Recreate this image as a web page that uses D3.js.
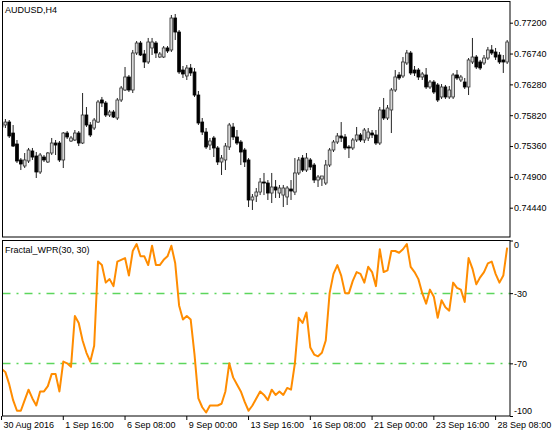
<!DOCTYPE html>
<html><head><meta charset="utf-8">
<script src="https://cdn.jsdelivr.net/npm/d3@7"></script>
<style>
body{margin:0;background:#fff;}
svg text{font-family:"Liberation Sans",Arial,sans-serif;font-size:9px;fill:#000;}
</style></head><body><svg id="c" width="560" height="435"></svg>
<script>
const symbolTitle = "AUDUSD,H4";
const indicatorTitle = "Fractal_WPR(30, 30)";
const open = [
.75704,.75674,.75718,.75554,.75390,.75152,.75062,.75137,.75286,.75211,
.74973,.75196,.75122,.75256,.75405,.75405,.75152,.75554,.75435,.75450,
.75554,.75405,.75823,.75674,.75629,.75718,.76047,.76002,.75823,.75868,
.75778,.76047,.76196,.76390,.76196,.76748,.76897,.76733,.76614,.76823,
.76897,.76688,.76688,.76823,.76793,.77270,.77061,.76494,.76405,.76524,
.76465,.76121,.75718,.75569,.75375,.75480,.75331,.75122,.75152,.75346,
.75644,.75495,.75420,.75301,.75152,.74555,.74614,.74674,.74823,.74808,
.74659,.74749,.74659,.74629,.74600,.74719,.74674,.74958,.75181,.75002,
.75152,.75077,.74853,.74868,.74808,.75077,.75301,.75420,.75510,.75495,
.75346,.75331,.75450,.75525,.75450,.75480,.75554,.75525,.75405,.75898,
.75778,.75898,.76196,.76420,.76405,.76599,.76748,.76494,.76494,.76390,
.76420,.76241,.76315,.76271,.76092,.76241,.76092,.76092,.76420,.76345,
.76315,.76241,.76614,.76688,.76614,.76599,.76673,.76793,.76763,.76718,
.76644,.76614];
const high = [
.75748,.75763,.75748,.75674,.75450,.75181,.75256,.75331,.75331,.75271,
.75256,.75226,.75271,.75480,.75450,.75435,.75569,.75584,.75510,.75599,
.75584,.76151,.75942,.75718,.75778,.76047,.76092,.76032,.75898,.75898,
.76077,.76256,.76539,.76420,.76793,.76927,.76927,.76793,.76972,.76972,
.76927,.76763,.76852,.76852,.77315,.77330,.77091,.76554,.76569,.76584,
.76524,.76181,.75778,.75629,.75480,.75510,.75360,.75226,.75405,.75704,
.75704,.75599,.75450,.75331,.75181,.74644,.74734,.74883,.74958,.74853,
.74958,.74853,.74779,.74779,.74764,.74853,.75181,.75196,.75226,.75256,
.75181,.75107,.74928,.74913,.75152,.75331,.75450,.75554,.75718,.75539,
.75375,.75480,.75644,.75554,.75629,.75629,.75599,.75599,.75942,.76077,
.75972,.76226,.76494,.76465,.76688,.76793,.76778,.76554,.76524,.76465,
.76524,.76345,.76345,.76300,.76285,.76271,.76256,.76450,.76494,.76420,
.76375,.76673,.76972,.76718,.76644,.76718,.76838,.76867,.76823,.76763,
.76718,.76942];
const low = [
.75614,.75629,.75480,.75346,.75107,.75002,.75032,.75107,.75152,.74883,
.74943,.75122,.75107,.75226,.75226,.75122,.75032,.75465,.75420,.75435,
.75360,.75390,.75644,.75495,.75599,.75704,.75942,.75793,.75793,.75778,
.75748,.76017,.76181,.76166,.76151,.76718,.76703,.76524,.76584,.76718,
.76673,.76673,.76673,.76748,.76763,.76942,.76435,.76375,.76345,.76405,
.76092,.75674,.75525,.75316,.75301,.75196,.75077,.74928,.75002,.75301,
.75450,.75375,.75077,.75047,.74450,.74406,.74525,.74629,.74629,.74555,
.74510,.74585,.74585,.74450,.74480,.74555,.74629,.74928,.74973,.74973,
.75002,.74808,.74749,.74764,.74779,.75047,.75271,.75390,.75420,.75301,
.75181,.75301,.75420,.75420,.75405,.75435,.75480,.75375,.75375,.75748,
.75748,.75554,.76166,.76345,.76375,.76569,.76420,.76405,.76345,.76345,
.76211,.76211,.76136,.76017,.76062,.76062,.76062,.76062,.76345,.76315,
.76211,.76121,.76584,.76509,.76494,.76569,.76644,.76718,.76644,.76584,
.76450,.76584];
const close = [
.75644,.75718,.75510,.75360,.75137,.75092,.75152,.75301,.75196,.74973,
.75226,.75152,.75256,.75405,.75375,.75152,.75554,.75495,.75480,.75554,
.75405,.75823,.75674,.75525,.75748,.76017,.76002,.75823,.75868,.75793,
.76047,.76226,.76390,.76196,.76748,.76897,.76718,.76614,.76912,.76912,
.76748,.76733,.76823,.76778,.77270,.77061,.76465,.76435,.76524,.76450,
.76121,.75704,.75569,.75346,.75435,.75331,.75122,.75181,.75360,.75674,
.75495,.75405,.75271,.75122,.74555,.74600,.74674,.74823,.74808,.74659,
.74749,.74704,.74734,.74734,.74734,.74689,.74958,.75152,.75002,.75181,
.75047,.74853,.74898,.74913,.75077,.75301,.75420,.75510,.75480,.75331,
.75331,.75450,.75525,.75450,.75599,.75569,.75525,.75405,.75898,.75778,
.75927,.76196,.76390,.76375,.76614,.76748,.76450,.76450,.76390,.76435,
.76241,.76315,.76166,.76047,.76241,.76092,.76196,.76420,.76375,.76390,
.76241,.76644,.76688,.76539,.76524,.76673,.76793,.76748,.76688,.76614,
.76614,.76912];
const wpr = [
-73,-75,-82,-91,-97,-97,-91,-85,-90,-94,
-86,-86,-83,-76,-76,-86,-69,-70,-72,-43,
-47,-57,-64,-69,-60,-12,-14,-24,-22,-26,
-12,-11,-10,-20,-6,-2,-9,-9,-14,-3,
-14,-14,-11,-9,-3,-13,-37,-45,-43,-45,
-65,-90,-95,-98,-94,-94,-94,-93,-86,-70,
-78,-82,-86,-92,-97,-94,-90,-86,-88,-91,
-85,-88,-86,-88,-84,-85,-70,-44,-47,-41,
-61,-65,-66,-64,-57,-30,-19,-14,-20,-30,
-30,-23,-18,-19,-24,-15,-18,-26,-5,-18,
-17,-6,-6,-7,-5,-2,-15,-18,-22,-30,
-36,-28,-32,-44,-34,-38,-40,-24,-27,-28,
-35,-10,-16,-25,-21,-18,-13,-12,-19,-24,
-20,-4];
const priceTicks = [0.77200,0.76740,0.76280,0.75820,0.75360,0.74900,0.74440];
const wprTicks = [0,-30,-70,-100];
const wprLevels = [-30,-70];
const timeTickIdx = [0,16,32,48,64,80,96,112,128];
const timeTickLabels = ["30 Aug 2016","1 Sep 16:00","6 Sep 08:00","9 Sep 00:00","13 Sep 16:00","16 Sep 08:00","21 Sep 00:00","23 Sep 16:00","28 Sep 08:00"];

const svg = d3.select("#c");
const L = 2.5, R = 510, T1 = 1.5, B1 = 237, T2 = 240.5, B2 = 416;
const N = close.length;
const x = d3.scaleBand().domain(d3.range(N)).range([-0.4, 509.1]).padding(0);
const cx = i => x(i) + x.bandwidth()/2;
const yP = d3.scaleLinear().domain([0.74440, 0.77200]).range([207.7, 22.7]);
const yW = d3.scaleLinear().domain([-100, 0]).range([B2, T2]);

const defs = svg.append("defs");
defs.append("clipPath").attr("id","c1").append("rect").attr("x",L).attr("y",T1).attr("width",R-L).attr("height",B1-T1);
defs.append("clipPath").attr("id","c2").append("rect").attr("x",L).attr("y",T2).attr("width",R-L).attr("height",B2-T2);

// candles
const gC = svg.append("g").attr("clip-path","url(#c1)");
const idx = d3.range(N);
gC.selectAll("line.w").data(idx).join("line")
  .attr("x1", i => cx(i)).attr("x2", i => cx(i))
  .attr("y1", i => yP(high[i])).attr("y2", i => yP(low[i]))
  .attr("stroke","#222").attr("stroke-width",1);
const bw = 2.8;
gC.selectAll("rect.b").data(idx).join("rect")
  .attr("x", i => cx(i) - bw/2).attr("width", bw)
  .attr("y", i => yP(Math.max(open[i], close[i])))
  .attr("height", i => Math.max(1, Math.abs(yP(open[i]) - yP(close[i]))))
  .attr("fill", i => close[i] >= open[i] ? "#d8d8d8" : "#000")
  .attr("stroke", i => close[i] >= open[i] ? "#333" : "#000").attr("stroke-width", 0.8);

// indicator
const gI = svg.append("g").attr("clip-path","url(#c2)");
gI.selectAll("line.lv").data(wprLevels).join("line")
  .attr("x1", L).attr("x2", R)
  .attr("y1", d => Math.round(yW(d)) + 0.5).attr("y2", d => Math.round(yW(d)) + 0.5)
  .attr("stroke","#5cd65c").attr("stroke-width",1.3).attr("stroke-dasharray","8,6,2,6");
gI.append("path").datum(wpr)
  .attr("d", d3.line().x((d,i) => cx(i)).y(d => yW(d)))
  .attr("fill","none").attr("stroke","#ff8c00").attr("stroke-width",2).attr("stroke-linejoin","round");

// frames
svg.append("rect").attr("x",L).attr("y",T1).attr("width",R-L).attr("height",B1-T1)
  .attr("fill","none").attr("stroke","#000").attr("stroke-width",1);
svg.append("rect").attr("x",L).attr("y",T2).attr("width",R-L).attr("height",B2-T2)
  .attr("fill","none").attr("stroke","#000").attr("stroke-width",1);

// price axis
const aP = svg.append("g").attr("transform",`translate(${R},0)`)
  .call(d3.axisRight(yP).tickValues(priceTicks).tickSize(3).tickPadding(1).tickFormat(d => d.toFixed(5)));
aP.select(".domain").remove();
aP.selectAll("line").attr("stroke","#000");
aP.selectAll("text").attr("font-size",null).attr("font-family",null);

// indicator axis
const aW = svg.append("g").attr("transform",`translate(${R},0)`)
  .call(d3.axisRight(yW).tickValues(wprTicks).tickSize(3).tickPadding(1).tickFormat(d => d));
aW.select(".domain").remove();
aW.selectAll("line").attr("stroke","#000");
aW.selectAll("text").attr("font-size",null).attr("font-family",null)
  .attr("y", d => d === 0 ? 4.5 : (d === -100 ? -5.5 : 0));

// time axis
const aT = svg.append("g").attr("transform",`translate(0,${B2})`)
  .call(d3.axisBottom(x).tickValues(timeTickIdx).tickSize(4).tickPadding(2)
    .tickFormat(d => timeTickLabels[timeTickIdx.indexOf(d)]));
aT.select(".domain").remove();
aT.selectAll("line").attr("stroke","#000");
aT.selectAll("text").attr("font-size",null).attr("font-family",null)
  .attr("text-anchor","start").attr("x",2);

// titles
svg.append("text").attr("x",5).attr("y",12.5).text(symbolTitle);
svg.append("text").attr("x",5).attr("y",252.5).text(indicatorTitle);
</script></body></html>
